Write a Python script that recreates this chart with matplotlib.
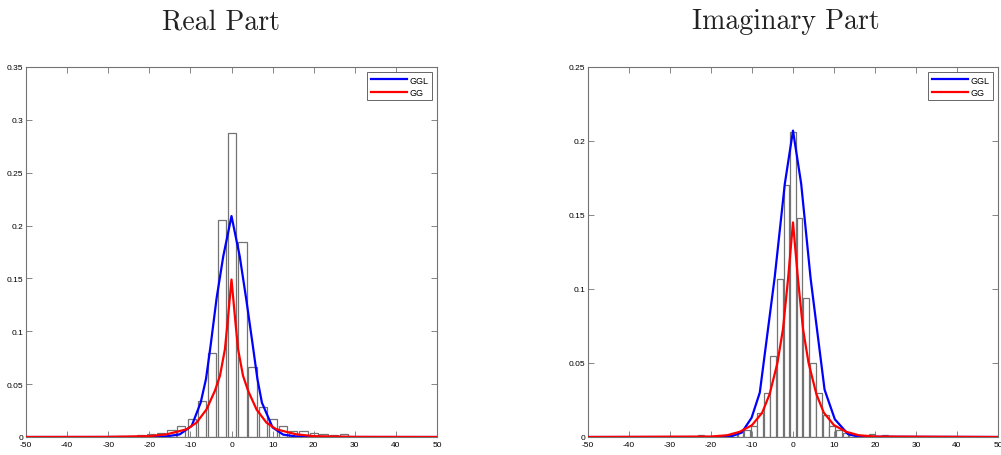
import matplotlib
matplotlib.use("Agg")
import matplotlib.pyplot as plt

# histogram bins (centres) and heights
real_centers = [-31.9, -29.4, -27.0, -24.5, -22.0, -19.6, -17.1, -14.6, -12.2, -9.7,
                -7.2, -4.7, -2.3, 0.2, 2.7, 5.1, 7.6, 10.1, 12.5, 15.0,
                17.5, 20.0, 22.4, 24.9, 27.4, 29.8]
real_heights = [0.0, 0.001, 0.0005, 0.0013, 0.0022, 0.0032, 0.0041, 0.0069, 0.0107, 0.0174,
                0.0344, 0.079, 0.205, 0.288, 0.184, 0.0666, 0.0287, 0.0167, 0.0107, 0.006,
                0.006, 0.0041, 0.0032, 0.0022, 0.0032, 0.0]

imag_centers = [-22.4, -20.8, -19.2, -17.6, -16.0, -14.4, -12.8, -11.2, -9.6, -8.0,
                -6.4, -4.8, -3.2, -1.6, 0.0, 1.6, 3.2, 4.8, 6.4, 8.0,
                9.6, 11.2, 12.8, 14.4, 16.0, 17.6, 19.2, 20.8, 22.4, 24.0]
imag_heights = [0.0015, 0.0003, 0.0008, 0.0008, 0.0012, 0.0025, 0.0035, 0.0045, 0.0075, 0.0165,
                0.030, 0.055, 0.107, 0.170, 0.206, 0.148, 0.094, 0.050, 0.030, 0.015,
                0.0075, 0.0045, 0.003, 0.0015, 0.001, 0.0008, 0.002, 0.0003, 0.0015, 0.0005]

# fitted densities
real_ggl_x = [-50, -20, -15.8, -12.6, -9.7, -7.5, -6.2, -5.1, -3.6, -2.0, 0,
              2.0, 3.6, 5.2, 6.3, 7.4, 10.0, 12.6, 15.8, 20, 50]
real_ggl_y = [0, 0, 0.0006, 0.0025, 0.0104, 0.0325, 0.055, 0.086, 0.132, 0.171, 0.209,
              0.171, 0.130, 0.086, 0.055, 0.0325, 0.009, 0.0022, 0.0005, 0, 0]
real_gg_x = [-50, -30, -20, -15.8, -10.9, -8.5, -6.1, -4.05, -2.8, -1.6, -0.97, 0,
             0.97, 1.6, 2.8, 4.05, 6.1, 8.5, 10.9, 15.8, 20, 30, 50]
real_gg_y = [0, 0.0001, 0.0008, 0.0025, 0.0073, 0.0136, 0.026, 0.0436, 0.058, 0.083, 0.108, 0.149,
             0.108, 0.083, 0.058, 0.0436, 0.026, 0.0136, 0.0073, 0.0025, 0.0008, 0.0001, 0]

imag_ggl_x = [-50, -17, -15, -12.5, -10.1, -8.1, -4.46, -2.0, 0,
              2.0, 4.3, 7.7, 10.2, 13.4, 16, 50]
imag_ggl_y = [0, 0, 0.0005, 0.003, 0.013, 0.030, 0.108, 0.171, 0.207,
              0.171, 0.107, 0.032, 0.012, 0.002, 0.0002, 0]
imag_gg_x = [-50, -20, -16, -13, -10, -7.5, -5.7, -3.8, -2.44, -1.2, 0,
             1.2, 2.44, 3.8, 5.7, 7.5, 10, 13, 16, 20, 50]
imag_gg_y = [0, 0.0003, 0.0012, 0.0035, 0.008, 0.0165, 0.029, 0.05, 0.073, 0.107, 0.145,
             0.107, 0.073, 0.05, 0.029, 0.0165, 0.008, 0.0035, 0.0012, 0.0003, 0]

x_ticks = [-50, -40, -30, -20, -10, 0, 10, 20, 30, 40, 50]
real_yticks = [0, 0.05, 0.1, 0.15, 0.2, 0.25, 0.3, 0.35]
real_ylabels = ['0', '0.05', '0.1', '0.15', '0.2', '0.25', '0.3', '0.35']
imag_yticks = [0, 0.05, 0.1, 0.15, 0.2, 0.25]
imag_ylabels = ['0', '0.05', '0.1', '0.15', '0.2', '0.25']

W, H = 1001, 456
fig = plt.figure(figsize=(W / 100, H / 100), dpi=100)


def panel(rect, centers, heights, bw, ggl_x, ggl_y, gg_x, gg_y, yticks, ylabels, ymax):
    ax = fig.add_axes(rect)
    ax.bar(centers, heights, width=bw, facecolor='white', edgecolor='0.45',
           linewidth=0.9, zorder=1)
    ax.plot(ggl_x, ggl_y, color='#0000ff', lw=1.6, label='GGL', zorder=3)
    ax.plot(gg_x, gg_y, color='#ff0000', lw=1.6, label='GG', zorder=3)
    ax.set_xlim(-50, 50)
    ax.set_ylim(0, ymax)
    ax.set_xticks(x_ticks)
    ax.set_xticklabels([str(t) for t in x_ticks])
    ax.set_yticks(yticks)
    ax.set_yticklabels(ylabels)
    ax.tick_params(direction='in', length=4, width=0.6, color='0.45',
                   top=True, right=True, labelsize=6)
    ax.tick_params(axis='x', pad=3)
    ax.tick_params(axis='y', pad=2)
    for lab in ax.get_xticklabels() + ax.get_yticklabels():
        lab.set_fontfamily('Liberation Sans')
    for s in ax.spines.values():
        s.set_color('0.45')
        s.set_linewidth(0.8)
    leg = ax.legend(loc='upper right', fancybox=False, edgecolor='0.4',
                    prop={'family': 'Liberation Sans', 'size': 6.5},
                    handlelength=4.0, handletextpad=0.3, borderpad=0.4,
                    labelspacing=0.35, borderaxespad=0.55, framealpha=1)
    leg.get_frame().set_linewidth(0.7)
    return ax


panel([26 / W, 18 / H, 411 / W, 370 / H], real_centers, real_heights, 2.0,
      real_ggl_x, real_ggl_y, real_gg_x, real_gg_y, real_yticks, real_ylabels, 0.35)
panel([588 / W, 18 / H, 410 / W, 370 / H], imag_centers, imag_heights, 1.4,
      imag_ggl_x, imag_ggl_y, imag_gg_x, imag_gg_y, imag_yticks, imag_ylabels, 0.25)

fig.text(221 / W, 1 - 22 / H, 'Real Part', family='cmr10', fontsize=20,
         ha='center', va='center', color='#222222')
fig.text(786 / W, 1 - 22 / H, 'Imaginary Part', family='cmr10', fontsize=20,
         ha='center', va='center', color='#222222')

fig.savefig('out.png', dpi=100)
